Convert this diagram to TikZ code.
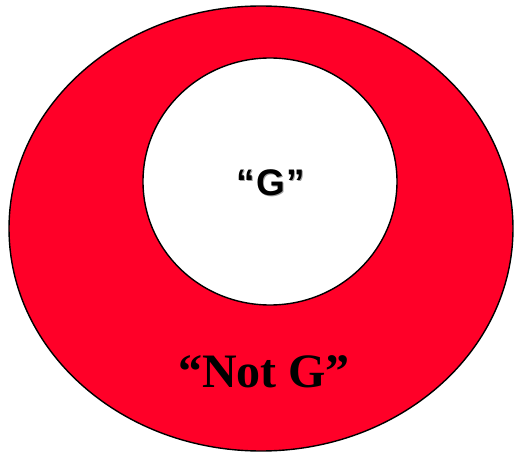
\documentclass[tikz,border=0pt]{standalone}
\usepackage{fontspec}
\usepackage{tikz}
\usetikzlibrary{shapes.geometric}
\newfontfamily\labelsans{Liberation Sans}
\newfontfamily\labelserif{Liberation Serif}
\definecolor{setred}{HTML}{FF0028}
\definecolor{shadowgray}{HTML}{A0A0A0}

\begin{document}
\begin{tikzpicture}[
    x=1pt, y=1pt,
    region/.style={ellipse, draw, line width=1.4pt, inner sep=0pt},
    setlabel/.style={inner sep=0pt, font=\labelsans\bfseries\fontsize{37}{37}\selectfont},
    complabel/.style={inner sep=0pt, font=\labelserif\bfseries\fontsize{48}{48}\selectfont},
]
\useasboundingbox (0,0) rectangle (515,-452);

\node[region, fill=setred, minimum width=504, minimum height=445] (notg) at (261,-228.5) {};
\node[region, fill=white, minimum width=254, minimum height=247] (g) at (270,-181.5) {};

% label with soft shadow
\node[setlabel, text=shadowgray] (gshadow) at (272,-184) {“\kern1.5pt G\kern1.5pt”};
\node[setlabel] (glabel) at (270.5,-182.5) {“\kern1.5pt G\kern1.5pt”};
\node[complabel] (notglabel) at (264,-372) {“Not G”};

\end{tikzpicture}
\end{document}
